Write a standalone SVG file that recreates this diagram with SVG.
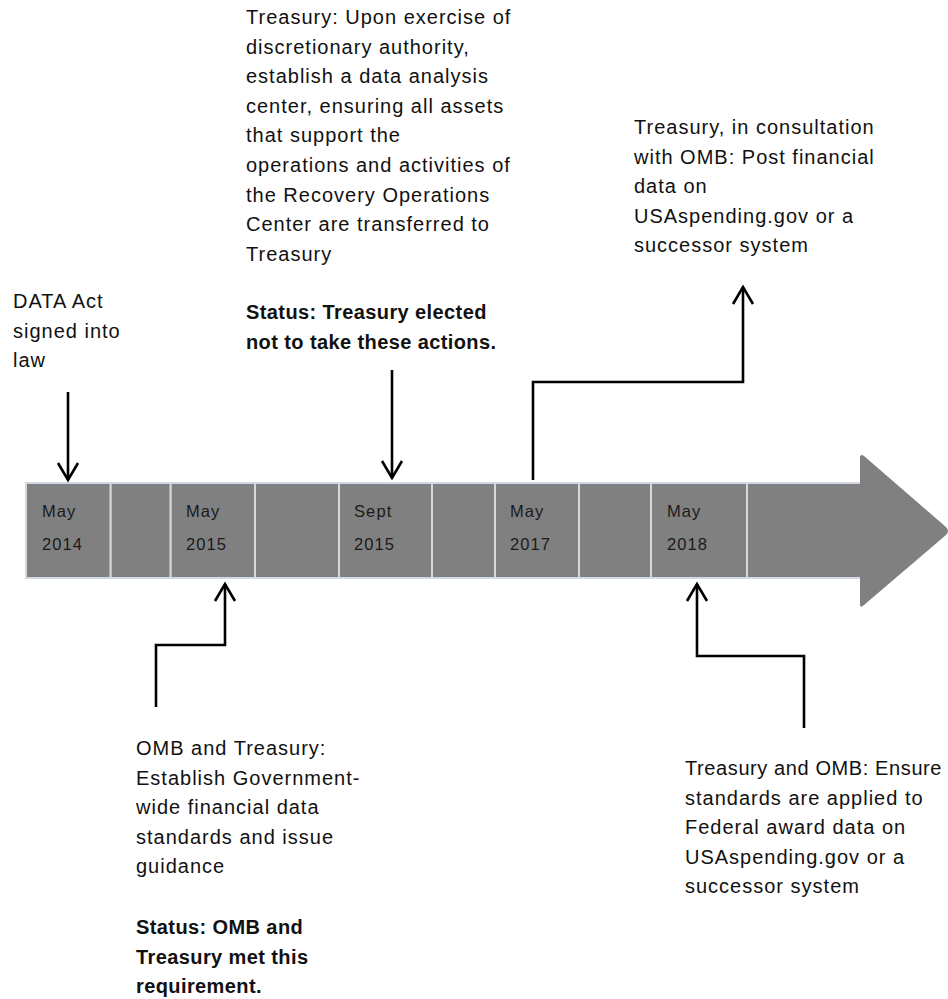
<svg xmlns="http://www.w3.org/2000/svg" width="948" height="999" viewBox="0 0 948 999">
<style>
.t{font-family:"Liberation Sans",Arial,sans-serif;font-size:20px;letter-spacing:1px;fill:#111}
.b{font-weight:bold;letter-spacing:0.4px}
.lbl{font-family:"Liberation Sans",Arial,sans-serif;font-size:16.5px;letter-spacing:1.1px;fill:#1a1a1a}
.cell{fill:#808080;stroke:#d3d9e2;stroke-width:2}
.con{fill:none;stroke:#000;stroke-width:2.6}
</style>
<defs>
<marker id="ah" viewBox="0 0 24 24" refX="20" refY="12" markerWidth="24" markerHeight="24" markerUnits="userSpaceOnUse" orient="auto">
<path d="M3,2 L20,12 L3,22" fill="none" stroke="#000" stroke-width="2.6"/>
</marker>
</defs>
<g id="timeline">
<rect class="cell" x="26" y="483" width="84.7" height="95"/>
<rect class="cell" x="110.7" y="483" width="60" height="95"/>
<rect class="cell" x="170.7" y="483" width="84.3" height="95"/>
<rect class="cell" x="255" y="483" width="84" height="95"/>
<rect class="cell" x="339" y="483" width="93" height="95"/>
<rect class="cell" x="432" y="483" width="63" height="95"/>
<rect class="cell" x="495" y="483" width="84" height="95"/>
<rect class="cell" x="579" y="483" width="72" height="95"/>
<rect class="cell" x="651" y="483" width="96" height="95"/>
<rect class="cell" x="747" y="483" width="115" height="95"/>
<path d="M860,458 Q860,453 864,456 L946,527 Q950,531 946,535 L864,605 Q860,609 860,604 Z" fill="#808080"/>
<text class="lbl" x="42" y="517">May</text><text class="lbl" x="42" y="550">2014</text>
<text class="lbl" x="186" y="517">May</text><text class="lbl" x="186" y="550">2015</text>
<text class="lbl" x="354" y="517">Sept</text><text class="lbl" x="354" y="550">2015</text>
<text class="lbl" x="510" y="517">May</text><text class="lbl" x="510" y="550">2017</text>
<text class="lbl" x="667" y="517">May</text><text class="lbl" x="667" y="550">2018</text>
</g>
<g id="connectors">
<path class="con" d="M68,392 V480" marker-end="url(#ah)"/>
<path class="con" d="M392,370 V478" marker-end="url(#ah)"/>
<path class="con" d="M533,480 V382 H743 V287" marker-end="url(#ah)"/>
<path class="con" d="M156,707 V645 H225 V584" marker-end="url(#ah)"/>
<path class="con" d="M804,728 V656 H697 V584" marker-end="url(#ah)"/>
</g>
<g id="n-data-act">
<text class="t" x="13" y="308">DATA Act</text>
<text class="t" x="13" y="337.6">signed into</text>
<text class="t" x="13" y="367.2">law</text>
</g>
<g id="n-sept2015">
<text class="t" x="246" y="24">Treasury: Upon exercise of</text>
<text class="t" x="246" y="53.6">discretionary authority,</text>
<text class="t" x="246" y="83.2">establish a data analysis</text>
<text class="t" x="246" y="112.8">center, ensuring all assets</text>
<text class="t" x="246" y="142.4">that support the</text>
<text class="t" x="246" y="172">operations and activities of</text>
<text class="t" x="246" y="201.6">the Recovery Operations</text>
<text class="t" x="246" y="231.2">Center are transferred to</text>
<text class="t" x="246" y="260.8">Treasury</text>
<text class="t b" x="246" y="319">Status: Treasury elected</text>
<text class="t b" x="246" y="348.6">not to take these actions.</text>
</g>
<g id="n-may2017">
<text class="t" x="634" y="134">Treasury, in consultation</text>
<text class="t" x="634" y="163.6">with OMB: Post financial</text>
<text class="t" x="634" y="193.2">data on</text>
<text class="t" x="634" y="222.8">USAspending.gov or a</text>
<text class="t" x="634" y="252.4">successor system</text>
</g>
<g id="n-may2015">
<text class="t" x="136" y="755">OMB and Treasury:</text>
<text class="t" x="136" y="784.6">Establish Government-</text>
<text class="t" x="136" y="814.2">wide financial data</text>
<text class="t" x="136" y="843.8">standards and issue</text>
<text class="t" x="136" y="873.4">guidance</text>
<text class="t b" x="136" y="934">Status: OMB and</text>
<text class="t b" x="136" y="963.6">Treasury met this</text>
<text class="t b" x="136" y="993.2">requirement.</text>
</g>
<g id="n-may2018">
<text class="t" x="685" y="775" style="letter-spacing:0.6px">Treasury and OMB: Ensure</text>
<text class="t" x="685" y="804.6">standards are applied to</text>
<text class="t" x="685" y="834.2">Federal award data on</text>
<text class="t" x="685" y="863.8">USAspending.gov or a</text>
<text class="t" x="685" y="893.4">successor system</text>
</g>
</svg>
